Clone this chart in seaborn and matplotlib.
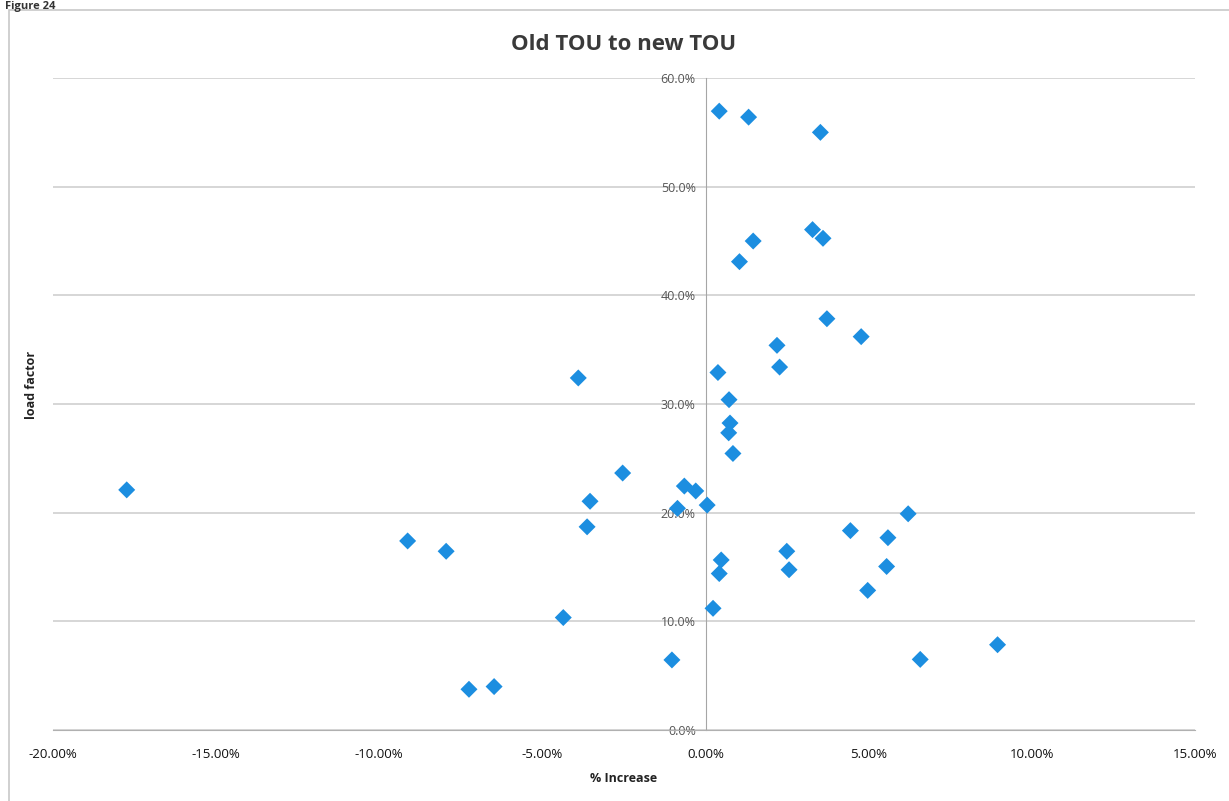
import matplotlib
matplotlib.use("Agg")
import matplotlib.pyplot as plt
import matplotlib.ticker as mtick
from matplotlib.patches import Rectangle
import seaborn as sns
import pandas as pd

# % increase (x) and load factor (y), both in percent
pct_increase = [-17.74, -9.13, -7.95, -7.25, -6.48, -4.36, -3.90, -3.63, -3.54, -2.54,
                -1.03, -0.86, -0.65, -0.30, 0.05, 0.23, 0.38, 0.42, 0.42, 0.48,
                0.72, 0.75, 0.71, 0.84, 1.04, 1.32, 1.46, 2.19, 2.27, 2.49,
                2.56, 3.28, 3.52, 3.60, 3.72, 4.44, 4.77, 4.97, 5.55, 5.59,
                6.21, 6.58, 8.95]
load_factor = [22.1, 17.4, 16.45, 3.75, 4.0, 10.35, 32.4, 18.7, 21.05, 23.65,
               6.45, 20.4, 22.45, 22.0, 20.7, 11.2, 32.9, 56.95, 14.4, 15.65,
               30.4, 28.25, 27.35, 25.45, 43.1, 56.4, 45.0, 35.4, 33.4, 16.45,
               14.75, 46.05, 55.0, 45.25, 37.85, 18.35, 36.2, 12.85, 15.05, 17.7,
               19.9, 6.5, 7.85]

df = pd.DataFrame({"x": [v / 100 for v in pct_increase],
                   "y": [v / 100 for v in load_factor]})

sns.set_style("white")
plt.rcParams['font.family'] = ['Open Sans', 'DejaVu Sans']
plt.rcParams['axes.unicode_minus'] = False

fig = plt.figure(figsize=(12.29, 8.01), dpi=100)
ax = fig.add_axes([0.0431, 0.0886, 0.9292, 0.814])

# frame of the chart box and the caption above it
fig.patches.append(Rectangle((0.007, -0.1), 1.2, 1.1 - 10 / 801, transform=fig.transFigure,
                             fill=False, edgecolor="#c8c8c8", linewidth=1.2))
fig.text(0.004, 0.999, "Figure 24", fontsize=8, fontweight="bold", color="#333333",
         va="top", ha="left")

sns.scatterplot(data=df, x="x", y="y", marker="D", s=75, color="#1c8ee0",
                edgecolor="none", ax=ax, zorder=3)

ax.set_xlim(-0.20, 0.15)
ax.set_ylim(0, 0.60)
ax.xaxis.set_major_locator(mtick.MultipleLocator(0.05))
ax.yaxis.set_major_locator(mtick.MultipleLocator(0.10))
ax.xaxis.set_major_formatter(mtick.PercentFormatter(1.0, decimals=2))
ax.yaxis.set_major_formatter(mtick.PercentFormatter(1.0, decimals=1))

ax.grid(axis="y", color="#cfcfcf", linewidth=1.2)
ax.grid(axis="x", visible=False)

for s in ["top", "right"]:
    ax.spines[s].set_visible(False)
ax.spines["left"].set_position(("data", 0))
ax.spines["left"].set_color("#a6a6a6")
ax.spines["bottom"].set_color("#b0b0b0")

ax.tick_params(axis="y", direction="out", length=4, color="#a6a6a6",
               labelsize=9, labelcolor="#555555", pad=3)
ax.tick_params(axis="x", direction="inout", length=6, color="#b0b0b0",
               labelsize=9.5, labelcolor="#111111", pad=10)
ax.set_axisbelow(True)

ax.set_title("Old TOU to new TOU", fontsize=16, fontweight="bold", color="#3a3a3a", pad=20)
ax.set_xlabel("% Increase", fontsize=9, fontweight="bold", color="#222222", labelpad=4)
ax.xaxis.set_label_coords(0.5, -0.065)
ax.set_ylabel("load factor", fontsize=9, fontweight="bold", color="#222222")
ax.yaxis.set_label_coords(-0.013, 0.53, transform=ax.transAxes)

fig.savefig("out.png", dpi=100)
